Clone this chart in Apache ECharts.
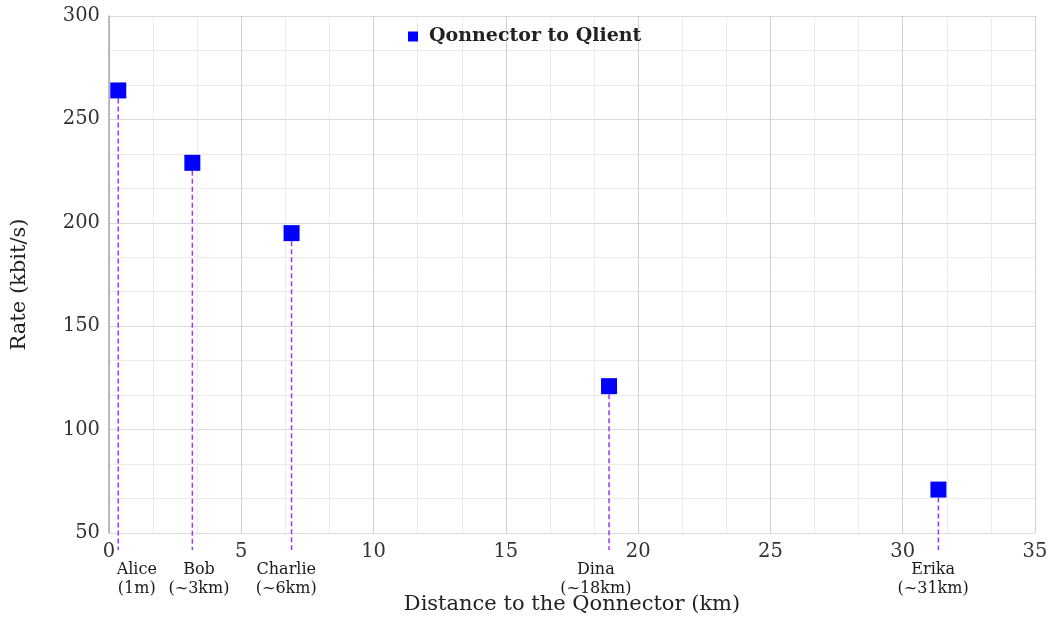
<!DOCTYPE html>
<html>
<head>
<meta charset="utf-8">
<script src="https://cdn.jsdelivr.net/npm/echarts@6/dist/echarts.min.js"></script>
<style>
    html, body { margin: 0; padding: 0; background: #fff; }
    #chart { width: 1050px; height: 617px; }
</style>
</head>
<body>
<div id="chart"></div>
<script>
    // data
    var names = ['Alice', 'Bob', 'Charlie', 'Dina', 'Erika'];
    var distNotes = ['(1m)', '(~3km)', '(~6km)', '(~18km)', '(~31km)'];
    var distance = [0.35, 3.15, 6.9, 18.9, 31.35];
    var rate = [264, 229, 195, 121, 71];
    var labelAt = [1.05, 3.4, 6.7, 18.4, 31.15];

    var font = "'DejaVu Serif', serif";

    var points = distance.map(function (d, i) { return [d, rate[i]]; });
    var drops = distance.map(function (d, i) { return [d, rate[i], labelAt[i], i]; });

    var chart = echarts.init(document.getElementById('chart'));
    chart.setOption({
        animation: false,
        grid: { left: 109, right: 15, top: 16, bottom: 84, outerBoundsMode: 'none', containLabel: false },
        legend: {
            top: 22,
            left: 403,
            itemWidth: 10,
            itemHeight: 10,
            icon: 'rect',
            textStyle: { fontFamily: font, fontWeight: 'bold', fontSize: 19, color: '#222', padding: [0, 0, 0, 6] },
            data: ['Qonnector to Qlient']
        },
        xAxis: {
            type: 'value',
            min: 0,
            max: 35,
            interval: 5,
            name: 'Distance to the Qonnector (km)',
            nameLocation: 'middle',
            nameGap: 61,
            nameTextStyle: { fontFamily: font, fontSize: 21, color: '#222' },
            axisLine: { lineStyle: { color: '#ddd' } },
            axisTick: { show: false },
            axisLabel: { fontFamily: font, fontSize: 19.5, color: '#333', margin: 9 },
            splitLine: { lineStyle: { color: '#d0d0d0' } },
            minorTick: { show: false, splitNumber: 3 },
            minorSplitLine: { show: true, lineStyle: { color: '#ebebeb' } }
        },
        yAxis: {
            type: 'value',
            min: 50,
            max: 300,
            interval: 50,
            name: 'Rate (kbit/s)',
            nameLocation: 'middle',
            nameGap: 79,
            nameTextStyle: { fontFamily: font, fontSize: 21, color: '#222', padding: [0, 20, 0, 0] },
            axisLine: { show: true, lineStyle: { color: '#aaa', width: 1.5 } },
            axisTick: { show: false },
            axisLabel: { fontFamily: font, fontSize: 19.5, color: '#333', margin: 9 },
            splitLine: { lineStyle: { color: '#dcdcdc' } },
            minorTick: { show: false, splitNumber: 3 },
            minorSplitLine: { show: true, lineStyle: { color: '#ebebeb' } }
        },
        series: [
            {
                type: 'custom',
                clip: false,
                z: 1,
                data: drops,
                renderItem: function (params, api) {
                    var top = api.coord([api.value(0), api.value(1)]);
                    var bottom = api.coord([api.value(0), 50]);
                    var lab = api.coord([api.value(2), 50]);
                    var i = api.value(3);
                    return {
                        type: 'group',
                        children: [
                            {
                                type: 'line',
                                shape: { x1: top[0], y1: top[1], x2: bottom[0], y2: bottom[1] + 17 },
                                style: { stroke: '#a035f5', lineWidth: 1.5, lineDash: [5, 3] }
                            },
                            {
                                type: 'text',
                                style: {
                                    text: names[i] + '\n' + distNotes[i],
                                    x: lab[0],
                                    y: bottom[1] + 27,
                                    align: 'center',
                                    verticalAlign: 'top',
                                    fontFamily: font,
                                    fontSize: 16,
                                    lineHeight: 19,
                                    fill: '#1a1a1a'
                                }
                            }
                        ]
                    };
                }
            },
            {
                name: 'Qonnector to Qlient',
                type: 'scatter',
                symbol: 'rect',
                symbolSize: 16,
                z: 3,
                itemStyle: { color: '#0000ff', opacity: 1 },
                data: points
            }
        ]
    });
</script>
</body>
</html>
